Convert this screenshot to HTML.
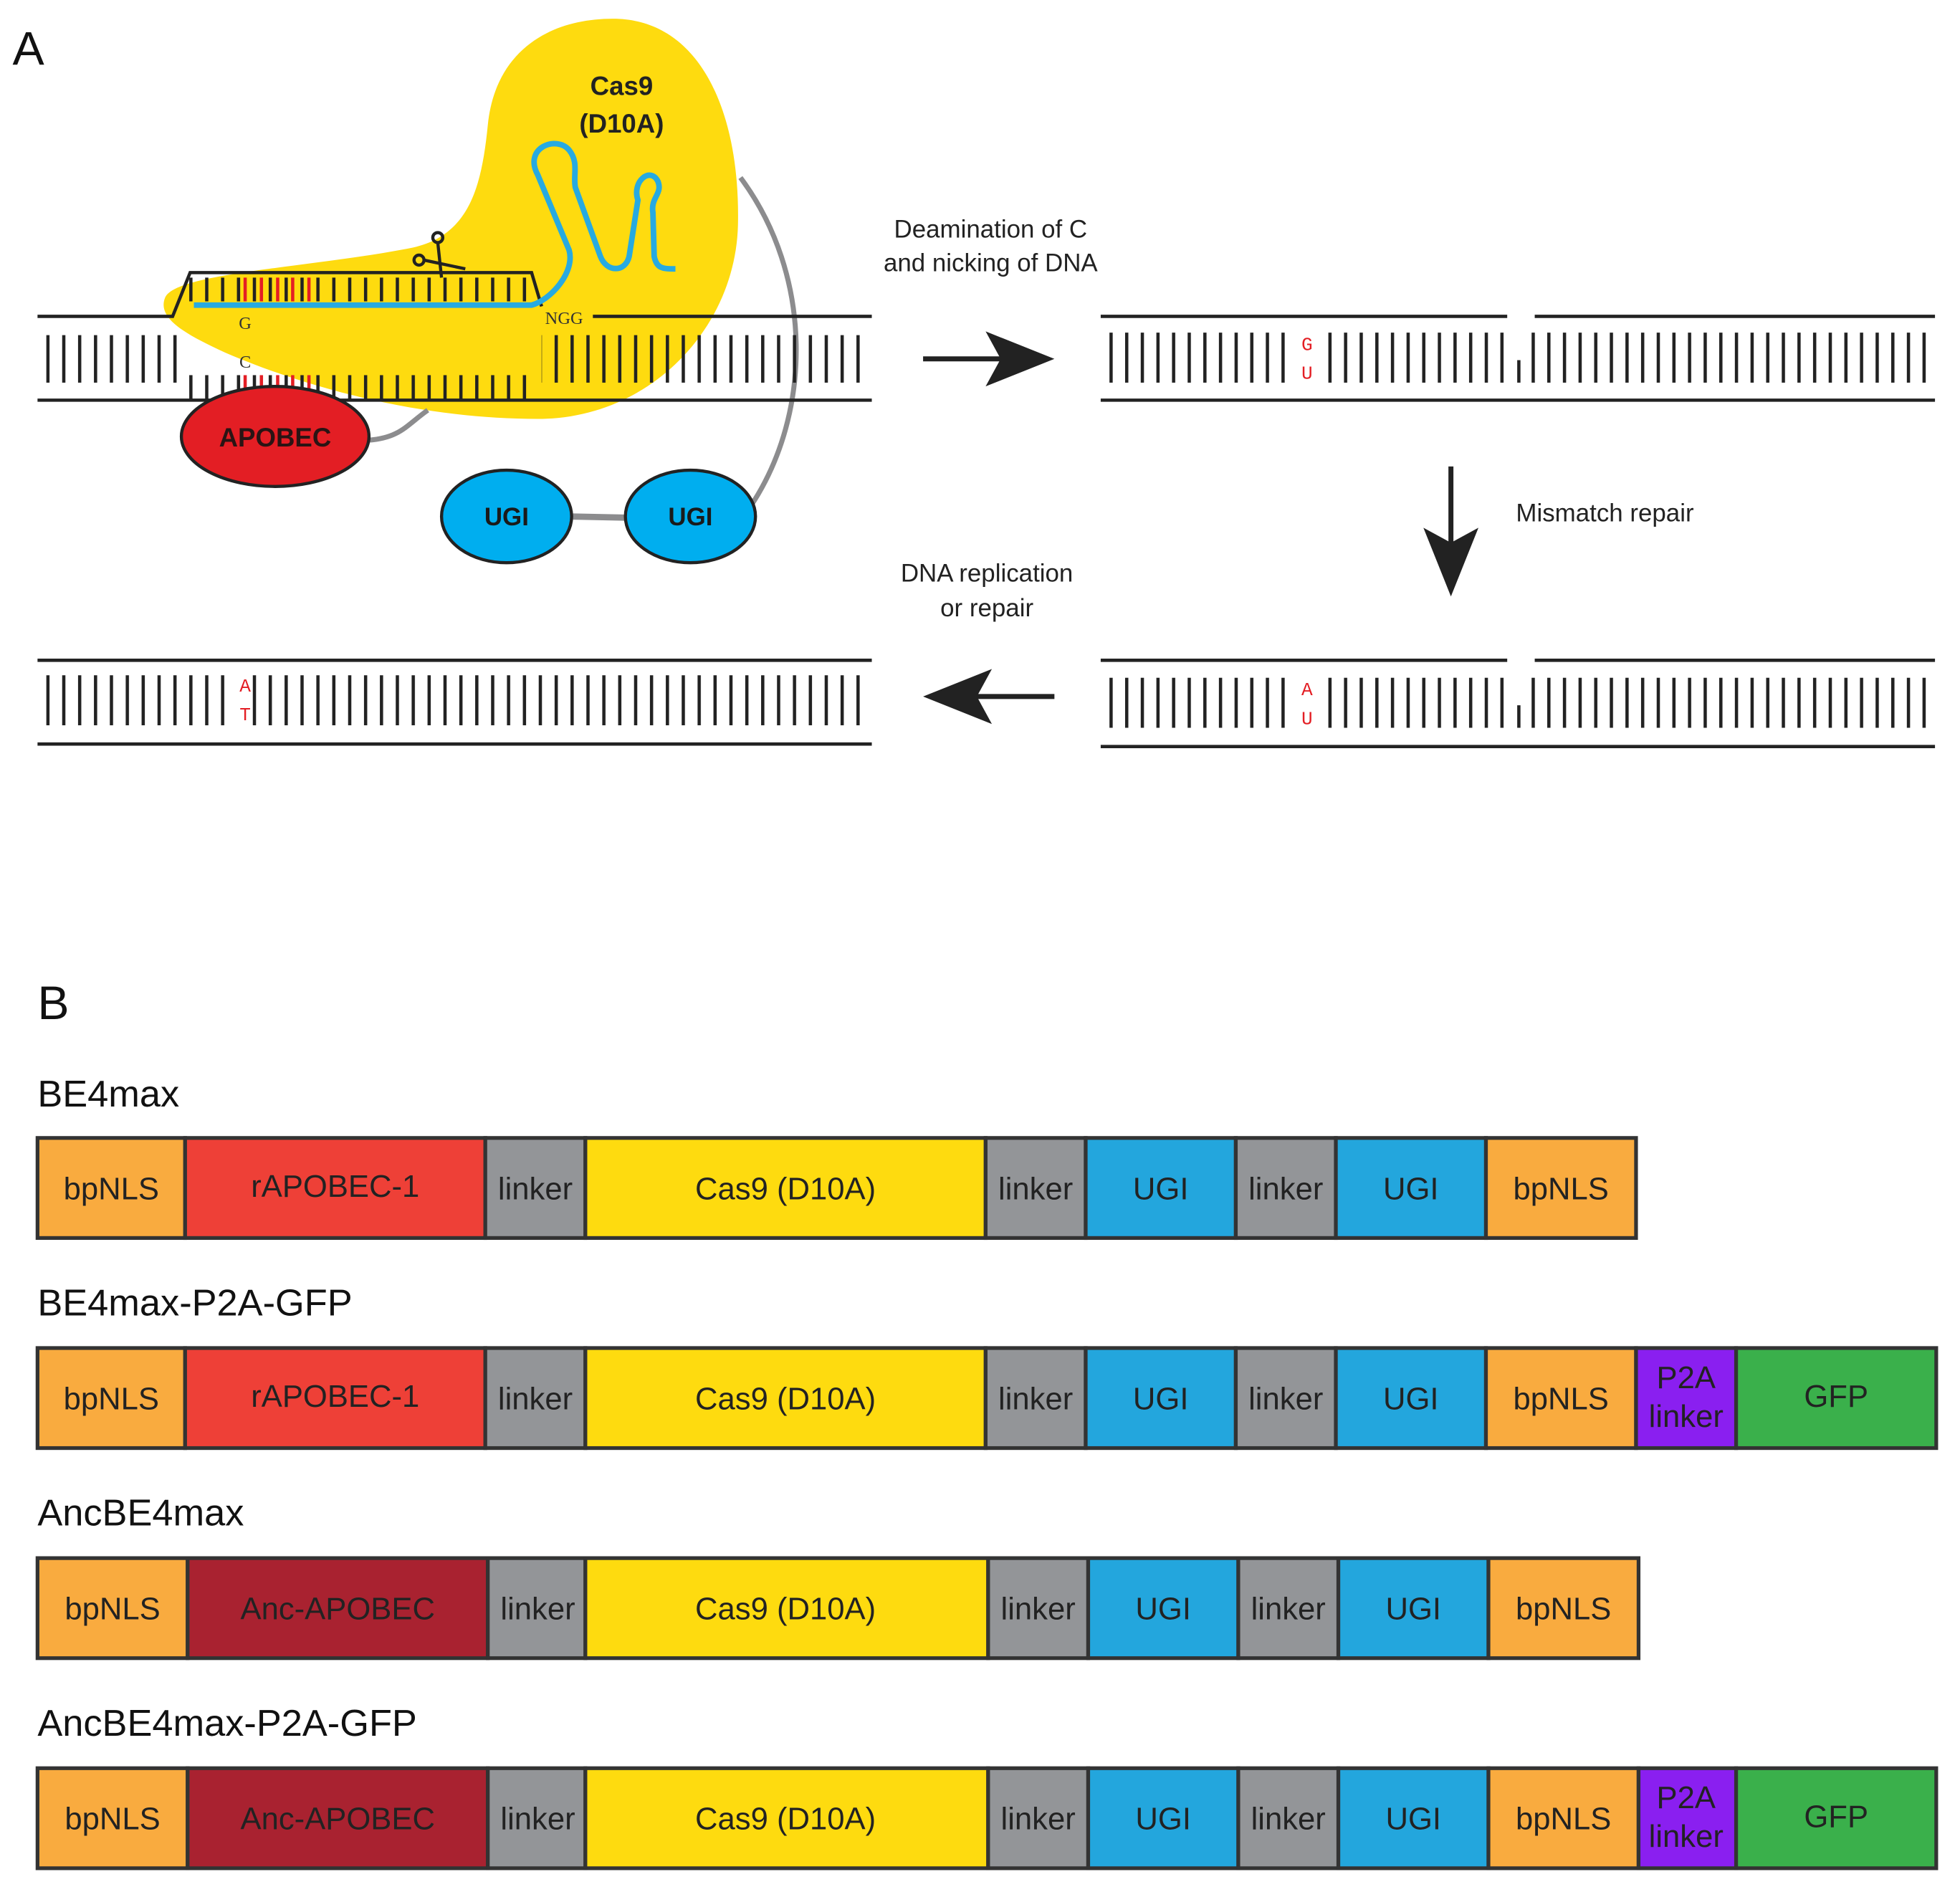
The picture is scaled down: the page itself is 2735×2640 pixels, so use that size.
<!DOCTYPE html>
<html><head><meta charset="utf-8"><style>html,body{margin:0;padding:0;background:#fff}svg{display:block}</style></head>
<body>
<svg width="2735" height="2640" viewBox="0 0 1567 1513" preserveAspectRatio="none" xmlns="http://www.w3.org/2000/svg" font-family="Liberation Sans, sans-serif">
<defs>
<pattern id="tk" patternUnits="userSpaceOnUse" x="37" y="0" width="12.7" height="10"><rect x="0" y="0" width="2.6" height="10" fill="#222"/></pattern>
<pattern id="tk2" patternUnits="userSpaceOnUse" x="887" y="0" width="12.5" height="10"><rect x="0" y="0" width="2.6" height="10" fill="#222"/></pattern>
</defs>
<text x="10" y="52" font-size="38" fill="#111">A</text>
<path d="M132,238 C140,218 250,214 330,198 C375,188 385,150 390,100 C396,40 440,15 490,15 C560,15 592,90 590,180 C588,262 520,335 430,335 C340,335 250,312 180,282 C150,268 125,255 132,238 Z" fill="#fedb0f"/>
<text x="497" y="76" font-size="21" font-weight="bold" text-anchor="middle" fill="#222">Cas9</text>
<text x="497" y="106" font-size="21" font-weight="bold" text-anchor="middle" fill="#222">(D10A)</text>
<path d="M600,405 C650,330 650,220 592,142" fill="none" stroke="#8c8c8e" stroke-width="4"/>
<path d="M295,352 C320,350 325,340 342,328" fill="none" stroke="#8c8c8e" stroke-width="4"/>
<line x1="455" y1="413" x2="502" y2="414" stroke="#8c8c8e" stroke-width="5"/>
<polyline points="30,253 138,253 152,218 425,218 433,245" fill="none" stroke="#222" stroke-width="2.6"/>
<line x1="474" y1="253" x2="697" y2="253" stroke="#222" stroke-width="2.6"/>
<line x1="30" y1="320" x2="697" y2="320" stroke="#222" stroke-width="2.6"/>
<rect x="37" y="268" width="106" height="38" fill="url(#tk)"/>
<rect x="433" y="268" width="262" height="38" fill="url(#tk)"/>
<rect x="151" y="222" width="276" height="19" fill="url(#tk)"/>
<rect x="151" y="300" width="276" height="19" fill="url(#tk)"/>
<g stroke="#e31e24" stroke-width="2.6">
<line x1="196" y1="222" x2="196" y2="241"/><line x1="209" y1="222" x2="209" y2="241"/><line x1="222" y1="222" x2="222" y2="241"/><line x1="234" y1="222" x2="234" y2="241"/><line x1="247" y1="222" x2="247" y2="241"/>
<line x1="196" y1="300" x2="196" y2="319"/><line x1="209" y1="300" x2="209" y2="319"/><line x1="222" y1="300" x2="222" y2="319"/><line x1="234" y1="300" x2="234" y2="319"/><line x1="247" y1="300" x2="247" y2="319"/>
</g>
<text x="196" y="263" font-size="14" font-family="Liberation Serif, serif" text-anchor="middle" fill="#333">G</text>
<text x="196" y="294" font-size="14" font-family="Liberation Serif, serif" text-anchor="middle" fill="#333">C</text>
<text x="451" y="259" font-size="14" font-family="Liberation Serif, serif" text-anchor="middle" fill="#333">NGG</text>
<path d="M155,244 L425,244 C440,240 460,218 455,200 L430,140 C418,118 445,108 455,120 C463,130 458,140 460,150 L480,205 C485,218 500,218 503,205 L510,160 C505,145 520,133 526,145 C530,155 520,158 522,170 L523,205 C525,215 530,215 540,215" fill="none" stroke="#27aae1" stroke-width="4.5"/>
<g stroke="#222" stroke-width="2.5" fill="none">
<circle cx="350" cy="190" r="4"/><circle cx="335" cy="208" r="4"/>
<line x1="350" y1="194" x2="353" y2="222"/><line x1="339" y1="208" x2="372" y2="215"/>
</g>
<ellipse cx="220" cy="349" rx="75" ry="40" fill="#e31e24" stroke="#222" stroke-width="2.5"/>
<text x="220" y="357" font-size="21" font-weight="bold" text-anchor="middle" fill="#2a1414">APOBEC</text>
<ellipse cx="405" cy="413" rx="52" ry="37" fill="#00aeef" stroke="#222" stroke-width="2.5"/>
<ellipse cx="552" cy="413" rx="52" ry="37" fill="#00aeef" stroke="#222" stroke-width="2.5"/>
<text x="405" y="420" font-size="20" font-weight="bold" text-anchor="middle" fill="#1a1a1a">UGI</text>
<text x="552" y="420" font-size="20" font-weight="bold" text-anchor="middle" fill="#1a1a1a">UGI</text>
<text x="792" y="190" font-size="20" text-anchor="middle" fill="#222">Deamination of C</text>
<text x="792" y="217" font-size="20" text-anchor="middle" fill="#222">and nicking of DNA</text>
<line x1="738" y1="287" x2="805" y2="287" stroke="#222" stroke-width="4"/>
<polygon points="788,265 843,287 788,309 800,287" fill="#222"/>
<line x1="1160" y1="373" x2="1160" y2="440" stroke="#222" stroke-width="4"/>
<polygon points="1138,422 1160,477 1182,422 1160,434" fill="#222"/>
<text x="1212" y="417" font-size="20" fill="#222">Mismatch repair</text>
<text x="789" y="465" font-size="20" text-anchor="middle" fill="#222">DNA replication</text>
<text x="789" y="493" font-size="20" text-anchor="middle" fill="#222">or repair</text>
<line x1="843" y1="557" x2="775" y2="557" stroke="#222" stroke-width="4"/>
<polygon points="793,535 738,557 793,579 781,557" fill="#222"/>
<line x1="880" y1="253" x2="1205" y2="253" stroke="#222" stroke-width="2.6"/>
<line x1="1227" y1="253" x2="1547" y2="253" stroke="#222" stroke-width="2.6"/>
<line x1="880" y1="320" x2="1547" y2="320" stroke="#222" stroke-width="2.6"/>
<rect x="886" y="266" width="150" height="40" fill="url(#tk2)"/>
<rect x="1061" y="266" width="145" height="40" fill="url(#tk2)"/>
<rect x="1224" y="266" width="320" height="40" fill="url(#tk2)"/>
<rect x="1213" y="288" width="2.6" height="18" fill="#222"/>
<text x="1045" y="280" font-size="15" font-family="Liberation Mono, monospace" text-anchor="middle" fill="#e31e24">G</text>
<text x="1045" y="303" font-size="15" font-family="Liberation Mono, monospace" text-anchor="middle" fill="#e31e24">U</text>
<line x1="880" y1="528" x2="1205" y2="528" stroke="#222" stroke-width="2.6"/>
<line x1="1227" y1="528" x2="1547" y2="528" stroke="#222" stroke-width="2.6"/>
<line x1="880" y1="597" x2="1547" y2="597" stroke="#222" stroke-width="2.6"/>
<rect x="886" y="542" width="150" height="40" fill="url(#tk2)"/>
<rect x="1061" y="542" width="145" height="40" fill="url(#tk2)"/>
<rect x="1224" y="542" width="320" height="40" fill="url(#tk2)"/>
<rect x="1213" y="564" width="2.6" height="18" fill="#222"/>
<text x="1045" y="556" font-size="15" font-family="Liberation Mono, monospace" text-anchor="middle" fill="#e31e24">A</text>
<text x="1045" y="579" font-size="15" font-family="Liberation Mono, monospace" text-anchor="middle" fill="#e31e24">U</text>
<line x1="30" y1="528" x2="697" y2="528" stroke="#222" stroke-width="2.6"/>
<line x1="30" y1="595" x2="697" y2="595" stroke="#222" stroke-width="2.6"/>
<rect x="37" y="540" width="150" height="40" fill="url(#tk)"/>
<rect x="202" y="540" width="493" height="40" fill="url(#tk)"/>
<text x="196" y="553" font-size="15" font-family="Liberation Mono, monospace" text-anchor="middle" fill="#e31e24">A</text>
<text x="196" y="576" font-size="15" font-family="Liberation Mono, monospace" text-anchor="middle" fill="#e31e24">T</text>

<text x="30" y="815" font-size="38" fill="#111">B</text>
<g font-size="30" fill="#111">
<text x="30" y="885">BE4max</text>
<text x="30" y="1052">BE4max-P2A-GFP</text>
<text x="30" y="1220">AncBE4max</text>
<text x="30" y="1388">AncBE4max-P2A-GFP</text>
</g>
<g stroke="#333" stroke-width="3" font-size="25" text-anchor="middle" fill="#222">
<rect x="30" y="910" width="118" height="80" fill="#f9ab3f"/><rect x="148" y="910" width="240" height="80" fill="#ee4037"/><rect x="388" y="910" width="80" height="80" fill="#939598"/><rect x="468" y="910" width="320" height="80" fill="#fedb0f"/><rect x="788" y="910" width="80" height="80" fill="#939598"/><rect x="868" y="910" width="120" height="80" fill="#23a6dd"/><rect x="988" y="910" width="80" height="80" fill="#939598"/><rect x="1068" y="910" width="120" height="80" fill="#23a6dd"/><rect x="1188" y="910" width="120" height="80" fill="#f9ab3f"/>
<rect x="30" y="1078" width="118" height="80" fill="#f9ab3f"/><rect x="148" y="1078" width="240" height="80" fill="#ee4037"/><rect x="388" y="1078" width="80" height="80" fill="#939598"/><rect x="468" y="1078" width="320" height="80" fill="#fedb0f"/><rect x="788" y="1078" width="80" height="80" fill="#939598"/><rect x="868" y="1078" width="120" height="80" fill="#23a6dd"/><rect x="988" y="1078" width="80" height="80" fill="#939598"/><rect x="1068" y="1078" width="120" height="80" fill="#23a6dd"/><rect x="1188" y="1078" width="120" height="80" fill="#f9ab3f"/><rect x="1308" y="1078" width="80" height="80" fill="#8a1ff0"/><rect x="1388" y="1078" width="160" height="80" fill="#3ab04b"/>
<rect x="30" y="1246" width="120" height="80" fill="#f9ab3f"/><rect x="150" y="1246" width="240" height="80" fill="#a92230"/><rect x="390" y="1246" width="78" height="80" fill="#939598"/><rect x="468" y="1246" width="322" height="80" fill="#fedb0f"/><rect x="790" y="1246" width="80" height="80" fill="#939598"/><rect x="870" y="1246" width="120" height="80" fill="#23a6dd"/><rect x="990" y="1246" width="80" height="80" fill="#939598"/><rect x="1070" y="1246" width="120" height="80" fill="#23a6dd"/><rect x="1190" y="1246" width="120" height="80" fill="#f9ab3f"/>
<rect x="30" y="1414" width="120" height="80" fill="#f9ab3f"/><rect x="150" y="1414" width="240" height="80" fill="#a92230"/><rect x="390" y="1414" width="78" height="80" fill="#939598"/><rect x="468" y="1414" width="322" height="80" fill="#fedb0f"/><rect x="790" y="1414" width="80" height="80" fill="#939598"/><rect x="870" y="1414" width="120" height="80" fill="#23a6dd"/><rect x="990" y="1414" width="80" height="80" fill="#939598"/><rect x="1070" y="1414" width="120" height="80" fill="#23a6dd"/><rect x="1190" y="1414" width="120" height="80" fill="#f9ab3f"/><rect x="1310" y="1414" width="78" height="80" fill="#8a1ff0"/><rect x="1388" y="1414" width="160" height="80" fill="#3ab04b"/>
</g>
<g font-size="25" text-anchor="middle" fill="#222">
<text x="89" y="959">bpNLS</text><text x="268" y="957">rAPOBEC-1</text><text x="428" y="959">linker</text><text x="628" y="959">Cas9 (D10A)</text><text x="828" y="959">linker</text><text x="928" y="959">UGI</text><text x="1028" y="959">linker</text><text x="1128" y="959">UGI</text><text x="1248" y="959">bpNLS</text>
<text x="89" y="1127">bpNLS</text><text x="268" y="1125">rAPOBEC-1</text><text x="428" y="1127">linker</text><text x="628" y="1127">Cas9 (D10A)</text><text x="828" y="1127">linker</text><text x="928" y="1127">UGI</text><text x="1028" y="1127">linker</text><text x="1128" y="1127">UGI</text><text x="1248" y="1127">bpNLS</text><text x="1348" y="1110">P2A</text><text x="1348" y="1141">linker</text><text x="1468" y="1125">GFP</text>
<text x="90" y="1295">bpNLS</text><text x="270" y="1295">Anc-APOBEC</text><text x="430" y="1295">linker</text><text x="628" y="1295">Cas9 (D10A)</text><text x="830" y="1295">linker</text><text x="930" y="1295">UGI</text><text x="1030" y="1295">linker</text><text x="1130" y="1295">UGI</text><text x="1250" y="1295">bpNLS</text>
<text x="90" y="1463">bpNLS</text><text x="270" y="1463">Anc-APOBEC</text><text x="430" y="1463">linker</text><text x="628" y="1463">Cas9 (D10A)</text><text x="830" y="1463">linker</text><text x="930" y="1463">UGI</text><text x="1030" y="1463">linker</text><text x="1130" y="1463">UGI</text><text x="1250" y="1463">bpNLS</text><text x="1348" y="1446">P2A</text><text x="1348" y="1477">linker</text><text x="1468" y="1461">GFP</text>
</g>
</svg>
</body></html>
